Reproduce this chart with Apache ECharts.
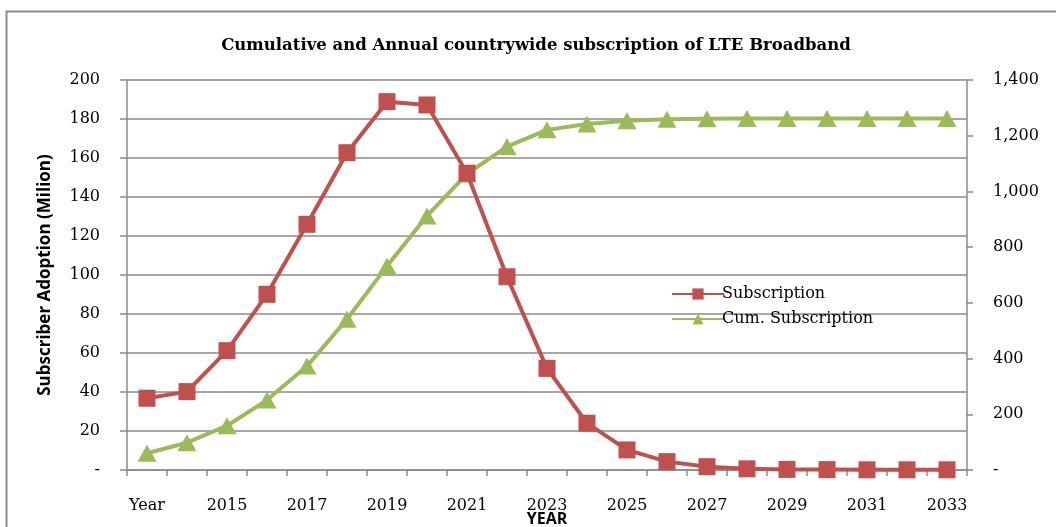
<!DOCTYPE html>
<html>
<head>
<meta charset="utf-8">
<script src="https://cdn.jsdelivr.net/npm/echarts@6/dist/echarts.min.js"></script>
<style>
html,body{margin:0;padding:0;background:#fff;}
#c{width:1056px;height:527px;}
</style>
</head>
<body>
<div id="c"></div>
<script>
var categories = ['Year','2014','2015','2016','2017','2018','2019','2020','2021','2022','2023','2024','2025','2026','2027','2028','2029','2030','2031','2032','2033'];
var subscription = [36.8, 40.2, 61.2, 90.1, 126, 162.7, 188.9, 187.2, 152.2, 99.1, 52.1, 24, 10.3, 4.3, 1.7, 0.6, 0.3, 0.2, 0.1, 0.1, 0.1];
var cumSubscription = [60, 98, 159, 251, 373, 541, 732, 912, 1063, 1161, 1221, 1242, 1254, 1259, 1261, 1262, 1262, 1262, 1262, 1262, 1262];
var leftTicks = {min: 0, max: 200, interval: 20};
var rightTicks = {min: 0, max: 1400, interval: 200};

var chart = echarts.init(document.getElementById('c'));
var gray = '#8a8a8a';
var serif = 'DejaVu Serif';
chart.setOption({
  backgroundColor: '#fff',
  animation: false,
  graphic: [{
    type: 'rect', left: 4, top: 9, shape: {width: 1100, height: 560},
    style: {fill: 'none', stroke: gray, lineWidth: 2}, silent: true
  }],
  title: {
    text: 'Cumulative and Annual countrywide subscription of LTE Broadband',
    left: 531, top: 32, textAlign: 'center',
    textStyle: {fontFamily: serif, fontWeight: 'bold', fontSize: 16.5, color: '#000'}
  },
  legend: {
    orient: 'vertical', left: 666, top: 281, itemGap: 9,
    itemWidth: 52, itemHeight: 14,
    textStyle: {fontFamily: serif, fontSize: 16, color: '#000', padding: [0,0,0,-7]},
    data: ['Subscription', 'Cum. Subscription']
  },
  grid: {left: 127, right: 89, top: 80, bottom: 57, outerBoundsMode: 'none', containLabel: false},
  xAxis: {
    type: 'category', data: categories, boundaryGap: true,
    name: 'YEAR', nameLocation: 'middle', nameGap: 41, nameMoveOverlap: false,
    nameTextStyle: {fontFamily: 'Open Sans', fontWeight: 'bold', fontSize: 16, color: '#000', verticalAlign: 'top'},
    axisLine: {lineStyle: {color: gray, width: 1.5}},
    axisTick: {show: true, length: 6, interval: 0, lineStyle: {color: gray, width: 1.5}},
    axisLabel: {interval: 1, margin: 28, fontFamily: serif, fontSize: 16, color: '#000'}
  },
  yAxis: [{
    type: 'value', min: leftTicks.min, max: leftTicks.max, interval: leftTicks.interval,
    name: 'Subscriber Adoption (Milion)', nameLocation: 'middle', nameGap: 73, nameRotate: 90,
    nameMoveOverlap: false,
    nameTextStyle: {fontFamily: 'Open Sans', fontWeight: 'bold', fontSize: 17, color: '#000'},
    axisLine: {show: true, lineStyle: {color: gray, width: 1.5}},
    axisTick: {show: true, length: 7, lineStyle: {color: gray, width: 1.5}},
    splitLine: {show: true, lineStyle: {color: gray, width: 1.5}},
    axisLabel: {margin: 27, fontFamily: serif, fontSize: 16, color: '#000',
      formatter: function(v){ return v === 0 ? '-' : String(v); }}
  }, {
    type: 'value', min: rightTicks.min, max: rightTicks.max, interval: rightTicks.interval,
    position: 'right',
    axisLine: {show: true, lineStyle: {color: gray, width: 1.5}},
    axisTick: {show: true, length: 6, lineStyle: {color: gray, width: 1.5}},
    splitLine: {show: false},
    axisLabel: {margin: 26, fontFamily: serif, fontSize: 16, color: '#000',
      formatter: function(v){ return v === 0 ? '-' : v.toLocaleString('en-US'); }}
  }],
  series: [{
    name: 'Subscription', type: 'line', yAxisIndex: 0, data: subscription,
    symbol: 'rect', symbolSize: 17, showAllSymbol: true,
    lineStyle: {color: '#C0504D', width: 4},
    itemStyle: {color: '#C0504D'}, z: 3
  }, {
    name: 'Cum. Subscription', type: 'line', yAxisIndex: 1, data: cumSubscription,
    symbol: 'triangle', symbolSize: [19, 17], showAllSymbol: true,
    lineStyle: {color: '#9BBB59', width: 4},
    itemStyle: {color: '#9BBB59'}, z: 2
  }]
});
</script>
</body>
</html>
